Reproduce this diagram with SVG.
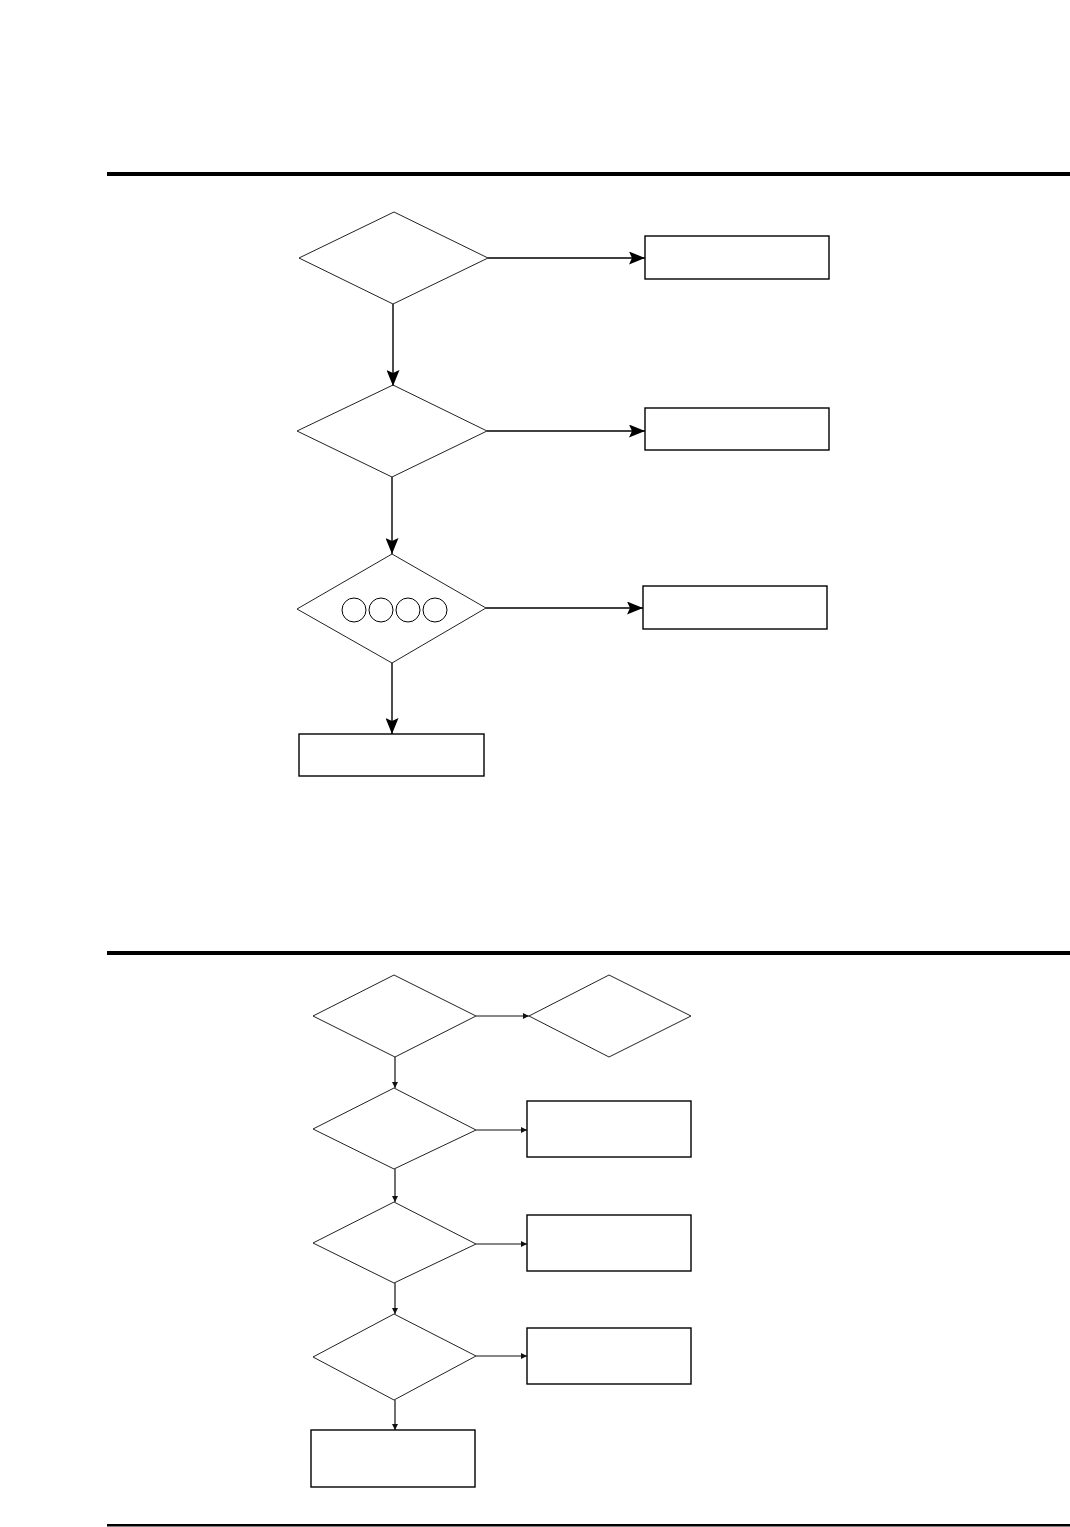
<svg xmlns="http://www.w3.org/2000/svg" width="1070" height="1527" viewBox="0 0 1070 1527">
<style>
.rule{fill:#000}
.dia{fill:none;stroke:#222;stroke-width:1}
.box{fill:none;stroke:#000;stroke-width:1.4}
.c1{fill:none;stroke:#000;stroke-width:1.4}
.c2{fill:none;stroke:#111;stroke-width:1.2}
.circ{fill:none;stroke:#000;stroke-width:1}
</style>
<defs>
<marker id="big" markerUnits="userSpaceOnUse" markerWidth="17" markerHeight="13" refX="16" refY="6.5" orient="auto">
<path d="M0,0 L16,6.5 L0,13 L3,6.5 z" fill="#000"/>
</marker>
<marker id="small" markerUnits="userSpaceOnUse" markerWidth="7" markerHeight="6" refX="6" refY="3" orient="auto">
<path d="M0,0 L6,3 L0,6 z" fill="#111"/>
</marker>
</defs>
<rect class="rule" x="107" y="172" width="963" height="4"/>
<rect class="rule" x="107" y="951" width="963" height="4"/>
<rect class="rule" x="107" y="1524" width="963" height="2.5"/>
<g id="connectors">
<line class="c1" x1="488" y1="258" x2="645" y2="258" marker-end="url(#big)"/>
<line class="c1" x1="393" y1="304" x2="393" y2="386" marker-end="url(#big)"/>
<line class="c1" x1="487" y1="431" x2="645" y2="431" marker-end="url(#big)"/>
<line class="c1" x1="392" y1="477" x2="392" y2="554" marker-end="url(#big)"/>
<line class="c1" x1="486" y1="608" x2="643" y2="608" marker-end="url(#big)"/>
<line class="c1" x1="392" y1="663" x2="392" y2="734" marker-end="url(#big)"/>
<line class="c2" x1="476" y1="1016" x2="529" y2="1016" marker-end="url(#small)"/>
<line class="c2" x1="395" y1="1057" x2="395" y2="1088" marker-end="url(#small)"/>
<line class="c2" x1="476" y1="1130" x2="527" y2="1130" marker-end="url(#small)"/>
<line class="c2" x1="395" y1="1169" x2="395" y2="1202" marker-end="url(#small)"/>
<line class="c2" x1="476" y1="1244" x2="527" y2="1244" marker-end="url(#small)"/>
<line class="c2" x1="395" y1="1283" x2="395" y2="1314" marker-end="url(#small)"/>
<line class="c2" x1="476" y1="1356" x2="527" y2="1356" marker-end="url(#small)"/>
<line class="c2" x1="395" y1="1400" x2="395" y2="1430" marker-end="url(#small)"/>
</g>
<g id="d1"><polygon class="dia" points="394,212 488,258 393,304 299,258"/></g>
<g id="b1"><rect class="box" x="645" y="236" width="184" height="43"/></g>
<g id="d2"><polygon class="dia" points="393,385 487,431 392,477 297,431"/></g>
<g id="b2"><rect class="box" x="645" y="408" width="184" height="42"/></g>
<g id="d3"><polygon class="dia" points="392,554 486,608 392,663 297,609"/>
<circle class="circ" cx="354" cy="610" r="12"/>
<circle class="circ" cx="381" cy="610" r="12"/>
<circle class="circ" cx="408" cy="610" r="12"/>
<circle class="circ" cx="435" cy="610" r="12"/>
</g>
<g id="b3"><rect class="box" x="643" y="586" width="184" height="43"/></g>
<g id="b4"><rect class="box" x="299" y="734" width="185" height="42"/></g>
<g id="e1"><polygon class="dia" points="394,975 476,1016 395,1057 313,1016"/></g>
<g id="e1r"><polygon class="dia" points="609,975 691,1016 609,1057 529,1016"/></g>
<g id="e2"><polygon class="dia" points="394,1088 476,1130 394,1169 313,1129"/></g>
<g id="f2"><rect class="box" x="527" y="1101" width="164" height="56"/></g>
<g id="e3"><polygon class="dia" points="394,1202 476,1244 394,1283 313,1243"/></g>
<g id="f3"><rect class="box" x="527" y="1215" width="164" height="56"/></g>
<g id="e4"><polygon class="dia" points="394,1314 476,1356 394,1400 313,1357"/></g>
<g id="f4"><rect class="box" x="527" y="1328" width="164" height="56"/></g>
<g id="f5"><rect class="box" x="311" y="1430" width="164" height="57"/></g>
</svg>
